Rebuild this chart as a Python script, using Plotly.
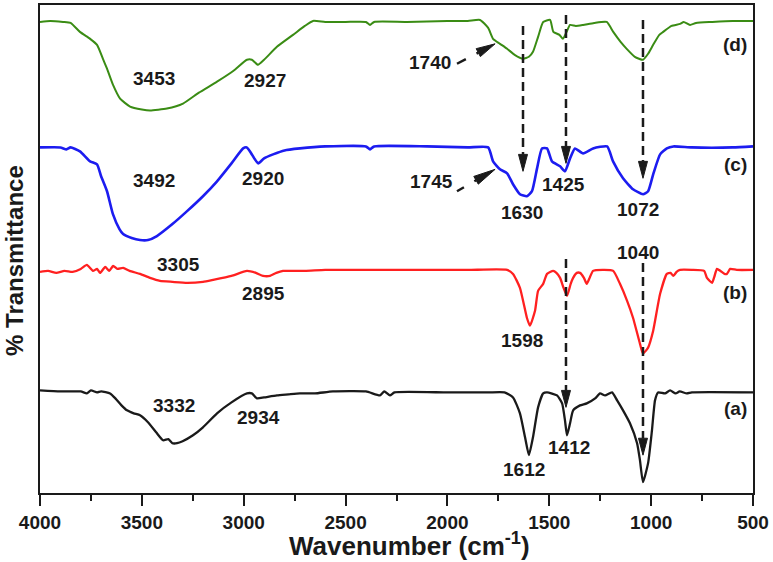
import math
import plotly.graph_objects as go

# ---------------- data (wavenumber cm-1, transmittance in arbitrary offset units) ----------------
d_wn = [4000, 3950, 3887, 3850, 3804, 3754, 3720, 3691, 3671, 3642, 3607, 3558, 3500, 3460, 3377, 3298,
        3220, 3131, 3050, 2984, 2960, 2930, 2900, 2837, 2758, 2700, 2660, 2600, 2500, 2400, 2380, 2360,
        2200, 2000, 1900, 1840, 1800, 1776, 1742, 1707, 1670, 1629, 1600, 1580, 1555, 1530, 1496, 1480,
        1450, 1433, 1415, 1398, 1370, 1334, 1280, 1218, 1186, 1150, 1120, 1080, 1040, 1015, 990, 960,
        941, 900, 858, 840, 809, 780, 700, 600, 500]
d_T = [473, 474, 473, 472, 463, 456, 450, 436, 426, 410, 396, 388, 385, 384, 386, 391,
       402, 413, 424, 435, 435, 430, 435, 448, 460, 469, 474, 473, 473, 473, 470, 473,
       473, 474, 474, 475, 467, 456, 451, 446, 440, 436, 438, 443, 458, 473, 475, 463,
       460, 456, 463, 470, 469, 470, 472, 473, 463, 453, 446, 438, 435, 441, 450, 460,
       463, 469, 471, 473, 470, 472, 473, 474, 474]

c_wn = [4000, 3900, 3870, 3850, 3804, 3754, 3720, 3700, 3671, 3642, 3610, 3592, 3550, 3509, 3470, 3426,
        3350, 3278, 3200, 3131, 3060, 3003, 2985, 2969, 2945, 2929, 2900, 2856, 2800, 2724, 2600, 2400,
        2380, 2360, 2100, 1900, 1800, 1776, 1742, 1707, 1678, 1644, 1610, 1585, 1560, 1536, 1511, 1487,
        1447, 1423, 1398, 1374, 1334, 1285, 1216, 1187, 1138, 1089, 1040, 1015, 990, 956, 923, 891,
        800, 600, 500]
c_T = [347, 347, 345, 347, 343, 333, 330, 318, 303, 280, 265, 260, 256, 254, 254, 258,
       270, 283, 298, 313, 331, 346, 347, 343, 335, 331, 336, 340, 344, 346, 348, 348,
       345, 348, 348, 347, 347, 333, 325, 321, 310, 300, 298, 303, 326, 346, 346, 333,
       328, 323, 336, 346, 341, 346, 348, 333, 316, 305, 300, 303, 320, 340, 346, 348,
       347, 347, 348]

b_wn = [4000, 3960, 3920, 3880, 3840, 3800, 3770, 3740, 3720, 3705, 3680, 3660, 3641, 3620, 3592, 3560,
        3509, 3460, 3411, 3350, 3278, 3200, 3150, 3060, 2984, 2940, 2905, 2871, 2840, 2807, 2700, 2600,
        2400, 2200, 1900, 1707, 1678, 1644, 1610, 1595, 1570, 1555, 1530, 1511, 1481, 1465, 1447, 1430,
        1413, 1395, 1383, 1365, 1349, 1330, 1316, 1300, 1285, 1230, 1186, 1153, 1118, 1089, 1055, 1040,
        1015, 990, 956, 923, 905, 891, 875, 858, 800, 740, 726, 701, 690, 677, 660, 640, 628, 612, 580, 500]
b_T = [222, 223, 221, 223, 222, 225, 229, 223, 225, 221, 227, 223, 228, 225, 226, 223,
       220, 216, 213, 212, 211, 212, 214, 218, 223, 221, 218, 218, 221, 223, 223, 224,
       224, 224, 224, 224, 220, 206, 176, 168, 183, 203, 210, 220, 223, 221, 216, 206,
       198, 210, 216, 221, 221, 216, 210, 217, 223, 224, 223, 210, 193, 176, 150, 140,
       146, 163, 200, 220, 221, 218, 222, 224, 224, 223, 216, 211, 217, 225, 223, 220, 220, 225, 224, 224]

a_wn = [4000, 3900, 3800, 3770, 3750, 3720, 3700, 3656, 3630, 3600, 3573, 3540, 3509, 3470, 3430, 3396,
        3370, 3350, 3327, 3300, 3249, 3200, 3131, 3060, 2984, 2960, 2935, 2900, 2837, 2780, 2724, 2650,
        2562, 2400, 2331, 2310, 2282, 2260, 2000, 1800, 1720, 1678, 1644, 1619, 1600, 1580, 1555, 1530,
        1511, 1462, 1437, 1423, 1413, 1398, 1383, 1349, 1316, 1275, 1251, 1226, 1192, 1167, 1138, 1104,
        1069, 1055, 1040, 1015, 996, 981, 966, 932, 907, 880, 860, 825, 800, 500]
a_T = [103, 102, 102, 100, 103, 101, 102, 100, 95, 88, 83, 80, 78, 71, 61, 53,
       54, 50, 50, 52, 58, 66, 80, 91, 100, 100, 95, 96, 98, 99, 100, 100,
       102, 102, 98, 102, 98, 101, 101, 101, 101, 96, 80, 56, 38, 56, 86, 100,
       101, 98, 90, 73, 58, 70, 83, 88, 90, 95, 100, 98, 101, 93, 83, 70,
       50, 33, 11, 30, 63, 93, 101, 100, 103, 100, 102, 100, 101, 101]

series_names = ["(a)", "(b)", "(c)", "(d)"]
series_colors = ["#1a1a1a", "#ff2020", "#1c1cf0", "#3a8c14"]

x_ticks = [4000, 3500, 3000, 2500, 2000, 1500, 1000, 500]

# peak labels: text, wavenumber, level
peak_text = ["3453", "2927", "3492", "2920", "3305", "2895", "3332", "2934",
             "1740", "1745", "1630", "1425", "1072", "1040", "1598", "1612", "1412"]
peak_wn = [3440, 2895, 3440, 2905, 3318, 2905, 3342, 2925,
           2085, 2076, 1634, 1428, 1064, 1064, 1634, 1624, 1403]
peak_T = [416, 414, 314, 316, 229, 200, 88, 76,
          432, 313, 282, 310, 285, 241, 153, 24, 46]

# series tags position
tag_wn = [588, 588, 588, 588]
tag_T = [85, 201, 330, 450]

# ---------------- figure ----------------
X0, X1 = 4000, 500
PLOT_W = 713
K = (X0 - X1) / PLOT_W  # wavenumber per pixel

fig = go.Figure()
widths = [2.3, 2.3, 2.6, 2]
for wn, T, col, w in zip([a_wn, b_wn, c_wn, d_wn], [a_T, b_T, c_T, d_T], series_colors, widths):
    fig.add_trace(go.Scatter(x=wn, y=T, mode="lines",
                             line=dict(color=col, width=w, shape="spline", smoothing=0.5),
                             showlegend=False, hoverinfo="skip"))

FONT = "Liberation Sans, Arial, sans-serif"
shapes = []


def arrow(x0, y0, x1, y1, head_len=17, head_w=4.5, dash="9px,5px", width=2.5):
    u0, v0 = (X0 - x0) / K, y0
    u1, v1 = (X0 - x1) / K, y1
    du, dv = u1 - u0, v1 - v0
    L = math.hypot(du, dv)
    du, dv = du / L, dv / L
    bu, bv = u1 - du * head_len, v1 - dv * head_len
    nu, nv = -dv, du
    pts = [(u1, v1), (bu + nu * head_w, bv + nv * head_w), (bu - nu * head_w, bv - nv * head_w)]
    shapes.append(dict(type="line", xref="x", yref="y", x0=x0, y0=y0,
                       x1=X0 - bu * K, y1=bv,
                       line=dict(color="#1a1a1a", width=width, dash=dash)))
    path = "M " + " L ".join(f"{X0 - pu * K:.2f},{pv:.2f}" for pu, pv in pts) + " Z"
    shapes.append(dict(type="path", xref="x", yref="y", path=path,
                       fillcolor="#1a1a1a", line=dict(color="#1a1a1a", width=1)))


# vertical dashed arrows
arrow(1629, 469, 1629, 323)
arrow(1418, 480, 1418, 331)
arrow(1418, 235, 1418, 86)
arrow(1040, 475, 1040, 316)
arrow(1040, 231, 1040, 38)
# diagonal arrows to shoulders
arrow(1953, 431, 1766, 451, head_len=19, head_w=4.5, dash="10px,12px", width=2.5)
arrow(1953, 303, 1766, 325, head_len=22, head_w=4.5, dash="8px,12px", width=2.5)

annotations = []
for t, x, y in zip(peak_text, peak_wn, peak_T):
    annotations.append(dict(x=x, y=y, xref="x", yref="y", text=t, showarrow=False,
                            font=dict(family=FONT, size=19, color="#1a1a1a", weight="bold"),
                            xanchor="center", yanchor="middle"))
for t, x, y in zip(series_names, tag_wn, tag_T):
    annotations.append(dict(x=x, y=y, xref="x", yref="y", text=t, showarrow=False,
                            font=dict(family=FONT, size=19, color="#1a1a1a", weight="bold"),
                            xanchor="center", yanchor="middle"))
# axis titles
annotations.append(dict(x=(409 - 40) / PLOT_W, y=(493 - 545) / 490, xref="paper", yref="paper",
                        text="Wavenumber (cm<sup>-1</sup>)", showarrow=False,
                        font=dict(family=FONT, size=26, color="#1a1a1a", weight="bold"),
                        xanchor="center", yanchor="middle"))
annotations.append(dict(x=(15 - 40) / PLOT_W, y=(493 - 260) / 490, xref="paper", yref="paper",
                        text="% Transmittance", showarrow=False, textangle=-90,
                        font=dict(family=FONT, size=24, color="#1a1a1a", weight="bold"),
                        xanchor="center", yanchor="middle"))

fig.update_layout(
    width=773, height=562,
    margin=dict(l=40, r=20, t=3, b=69),
    paper_bgcolor="white", plot_bgcolor="white",
    shapes=shapes, annotations=annotations,
    xaxis=dict(range=[X0, X1], tickvals=x_ticks, ticktext=[str(v) for v in x_ticks],
               ticks="outside", ticklen=11, tickwidth=2, tickcolor="#1a1a1a",
               minor=dict(dtick=250, tick0=0, ticks="outside", ticklen=6, tickwidth=2, tickcolor="#1a1a1a"),
               showline=True, linewidth=2, linecolor="#1a1a1a", mirror=True,
               showgrid=False, zeroline=False,
               tickfont=dict(family=FONT, size=19, color="#1a1a1a", weight="bold")),
    yaxis=dict(range=[0, 490], showticklabels=False, ticks="",
               showline=True, linewidth=2, linecolor="#1a1a1a", mirror=True,
               showgrid=False, zeroline=False),
)

fig.write_html("out.html", config={"displayModeBar": False},
               post_script="document.body.style.margin='0px';")
